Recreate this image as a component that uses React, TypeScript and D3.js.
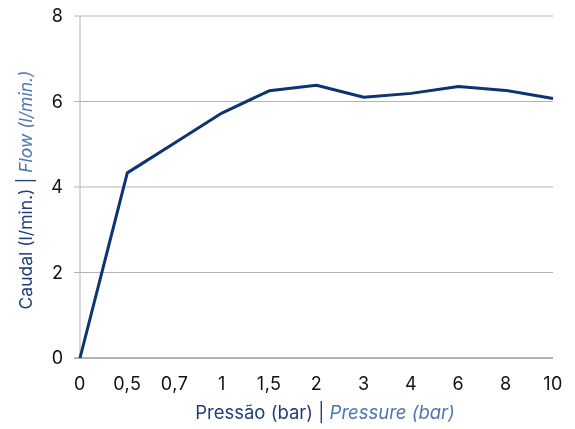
import React from 'react';
import * as d3 from 'd3';

const categories = ['0', '0,5', '0,7', '1', '1,5', '2', '3', '4', '6', '8', '10'];
const flow = [0, 4.33, 5.03, 5.73, 6.25, 6.38, 6.1, 6.19, 6.35, 6.26, 6.07];
const yTicks = [0, 2, 4, 6, 8];

const W = 575;
const H = 429;
const margin = { left: 80, right: 22, top: 16, bottom: 71 };

const App: React.FC = () => {
  const x = d3.scalePoint<string>()
    .domain(categories)
    .range([margin.left, W - margin.right]);
  const y = d3.scaleLinear().domain([0, 8]).range([H - margin.bottom, margin.top]);

  const line = d3.line<number>()
    .x((_, i) => x(categories[i]) as number)
    .y(d => y(d));

  const font = 'Inter, "Noto Sans", sans-serif';

  return (
    <div style={{ position: 'fixed', left: 0, top: 0 }}>
      <svg width={W} height={H} style={{ display: 'block' }}>
        {yTicks.map(t => (
          <g key={t}>
            <line x1={margin.left - 6} x2={W - margin.right} y1={y(t)} y2={y(t)}
              stroke={t === 0 ? '#999' : '#b3b3b3'} strokeWidth={t === 0 ? 1.5 : 1} />
            <text x={margin.left - 17} y={y(t)} dy="0.36em" textAnchor="end"
              fontFamily={font} fontSize={18} fill="#111">{t}</text>
          </g>
        ))}
        <line x1={margin.left} x2={margin.left} y1={margin.top} y2={y(0)} stroke="#b3b3b3" strokeWidth={1} />
        {categories.map(c => (
          <text key={c} x={x(c)} y={y(0) + 32} textAnchor="middle"
            fontFamily={font} fontSize={18} letterSpacing={0.5} fill="#111">{c}</text>
        ))}
        <path d={line(flow) ?? ''} fill="none" stroke="#0b3470" strokeWidth={3} strokeLinejoin="round" />
        <text x={325} y={419} textAnchor="middle" fontFamily={font} fontSize={18.5}>
          <tspan fill="#1f3e7a">Pressão (bar) | </tspan>
          <tspan fill="#4a76b4" fontStyle="italic">Pressure (bar)</tspan>
        </text>
        <text transform="translate(32,190) rotate(-90)" textAnchor="middle"
          fontFamily={font} fontSize={17.5}>
          <tspan fill="#1f3e7a">Caudal (l/min.) | </tspan>
          <tspan fill="#4a76b4" fontStyle="italic">Flow (l/min.)</tspan>
        </text>
      </svg>
    </div>
  );
};

export default App;
